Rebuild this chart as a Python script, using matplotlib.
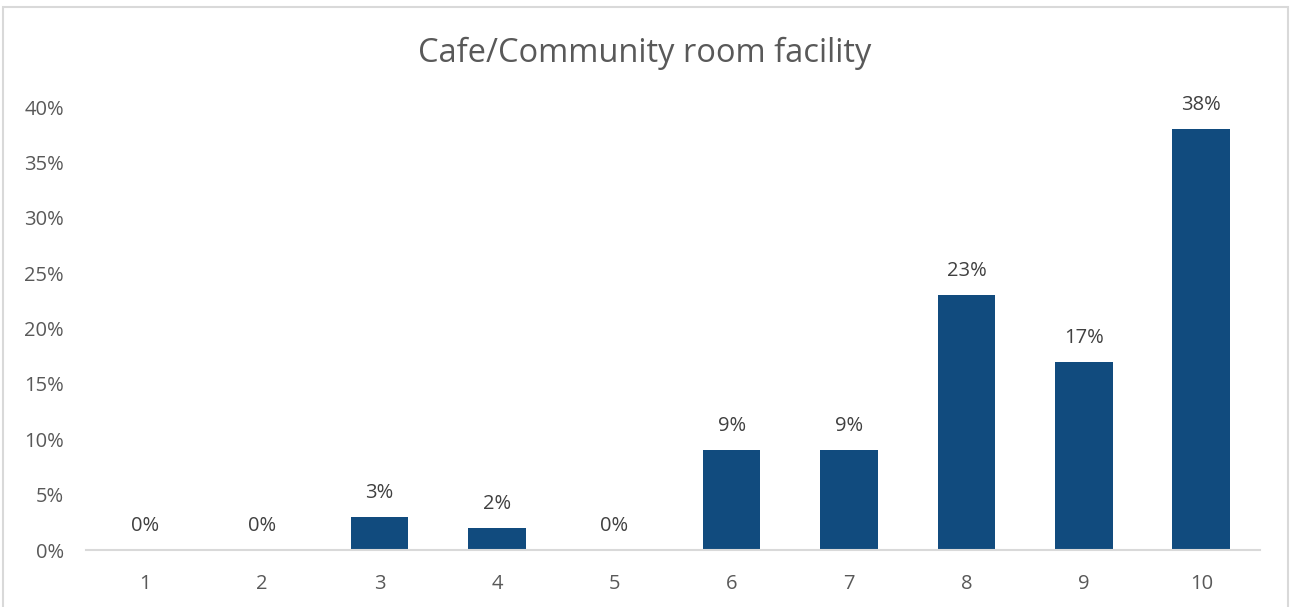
import matplotlib.pyplot as plt
from matplotlib.patches import Rectangle

# ======================
# Data
# ======================
ratings = ['1', '2', '3', '4', '5', '6', '7', '8', '9', '10']
shares = [0, 0, 3, 2, 0, 9, 9, 23, 17, 38]   # percent of responses
y_ticks = [0, 5, 10, 15, 20, 25, 30, 35, 40]

BAR_COLOR = '#114B7E'
TEXT_COLOR = '#595959'
LINE_COLOR = '#D9D9D9'

plt.rcParams['font.family'] = ['Open Sans', 'DejaVu Sans']

fig = plt.figure(figsize=(12.9, 6.07), dpi=100)
ax = fig.add_axes([0.0667, 0.0939, 0.91, 0.7298])

x = range(len(ratings))
bars = ax.bar(x, shares, width=0.49, color=BAR_COLOR)

# value labels above each bar
for rect, v in zip(bars, shares):
    ax.annotate(f'{v}%', (rect.get_x() + rect.get_width() / 2, v),
                xytext=(0, 10), textcoords='offset points',
                ha='center', va='bottom', fontsize=14.5, color='#404040')

ax.set_xlim(-0.5, len(ratings) - 0.5)
ax.set_ylim(0, 40)
ax.set_xticks(list(x))
ax.set_xticklabels(ratings)
ax.set_yticks(y_ticks)
ax.set_yticklabels([f'{t}%' for t in y_ticks])
ax.tick_params(axis='both', length=0, labelsize=14.5, colors=TEXT_COLOR)
ax.tick_params(axis='x', pad=17)
ax.tick_params(axis='y', pad=16)

for side in ['top', 'right', 'left']:
    ax.spines[side].set_visible(False)
ax.spines['bottom'].set_color(LINE_COLOR)
ax.spines['bottom'].set_linewidth(1.5)

fig.text(0.5, 0.912, 'Cafe/Community room facility', ha='center', va='center',
         fontsize=23.5, color=TEXT_COLOR)

# chart area border
W, H = 1290, 607
fig.patches.append(Rectangle((3 / W, -0.02), 1285 / W, 1.02 - 7 / H,
                             transform=fig.transFigure, fill=False,
                             edgecolor=LINE_COLOR, linewidth=1.5))

plt.savefig('out.png', dpi=100)
